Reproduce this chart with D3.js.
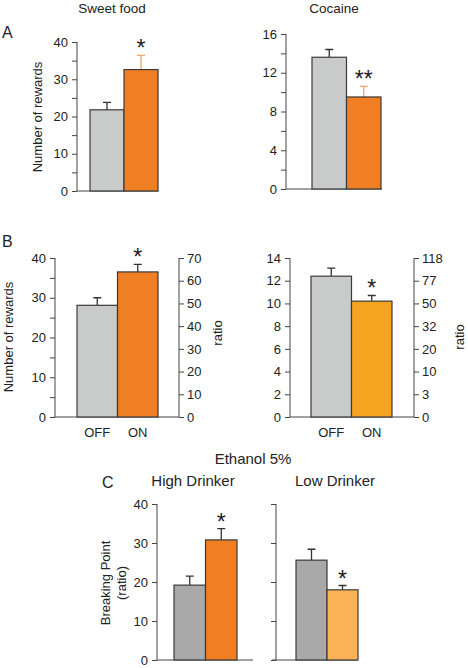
<!DOCTYPE html>
<html lang="en">
<head>
<meta charset="UTF-8">
<title>Rewards chart</title>
<script src="https://cdn.jsdelivr.net/npm/d3@7/dist/d3.min.js"></script>
<style>
  body { margin: 0; background: #fff; }
  svg { font-family: Arial, "Liberation Sans", Helvetica, sans-serif; }
  text { fill: #222; }
</style>
</head>
<body>
<script>

    // data
    var groups = ["OFF", "ON"];

    var sweetMean = [21.8, 32.6];
    var sweetErr = [2.0, 3.8];
    var cocaineMean = [13.6, 9.5];
    var cocaineErr = [0.8, 1.1];

    var sweetRatioMean = [28.1, 36.5];
    var sweetRatioErr = [1.9, 1.9];
    var cocaineRatioMean = [12.4, 10.2];
    var cocaineRatioErr = [0.7, 0.5];

    var highMean = [19.2, 30.8];
    var highErr = [2.3, 2.9];
    var lowMean = [25.6, 18.0];
    var lowErr = [2.8, 1.1];

    var sweetRatioLabels = ["0", "10", "20", "30", "40", "50", "60", "70"];
    var cocaineRatioLabels = ["0", "3", "10", "20", "32", "50", "77", "118"];

    var svg = d3.select("body").append("svg")
        .attr("width", 468)
        .attr("height", 668);

    var axisColor = "#444";
    var gray = "#C9CACA";
    var darkGray = "#A9A9A9";
    var orange = "#F07E22";
    var tickFont = 13;

    // draw one bar panel
    function panel(o) {
        var y = d3.scaleLinear().domain([0, o.max]).range([o.yBottom, o.yTop]);
        var x = d3.scaleBand().domain(groups).range(o.bars).padding(0);
        var g = svg.append("g");

        // left axis
        var ticks = d3.range(0, o.max + 0.001, o.minor);
        var ax = d3.axisLeft(y).tickValues(ticks).tickSize(5).tickPadding(4)
            .tickFormat(function (d) {
                if (!o.labels) return "";
                return d % o.major === 0 ? d : "";
            });
        var ag = g.append("g").attr("transform", "translate(" + o.axisX + ",0)").call(ax);
        ag.select(".domain").attr("d", "M0," + o.yBottom + "V" + o.yTop);
        ag.selectAll("line").attr("stroke", axisColor);
        ag.select(".domain").attr("stroke", axisColor);
        ag.selectAll("text").attr("font-size", tickFont).attr("fill", "#222");

        // right axis
        if (o.right) {
            var rightTicks = d3.range(0, o.max + 0.001, o.max / (o.right.length - 1));
            var ar = d3.axisRight(y).tickValues(rightTicks).tickSize(5).tickPadding(3)
                .tickFormat(function (d, i) { return o.right[i]; });
            var rg = g.append("g").attr("transform", "translate(" + o.rightX + ",0)").call(ar);
            rg.select(".domain").attr("d", "M0," + o.yBottom + "V" + o.yTop).attr("stroke", axisColor);
            rg.selectAll("line").attr("stroke", axisColor);
            rg.selectAll("text").attr("font-size", tickFont).attr("fill", "#222");
        }

        // baseline
        g.append("line")
            .attr("x1", o.baseStart || o.axisX).attr("x2", o.baseEnd)
            .attr("y1", o.yBottom).attr("y2", o.yBottom)
            .attr("stroke", axisColor).attr("stroke-width", 1);

        // error bars
        var cx = function (d, i) { return x(groups[i]) + x.bandwidth() / 2; };
        g.selectAll(".err").data(o.means).enter().append("path")
            .attr("fill", "none")
            .attr("stroke", function (d, i) { return o.errColors[i]; })
            .attr("stroke-width", 1.3)
            .attr("d", function (d, i) {
                var c = cx(d, i), t = y(d + o.errs[i]);
                return "M" + c + "," + y(d) + "V" + t + "M" + (c - 4) + "," + t + "H" + (c + 4);
            });

        // bars
        g.selectAll(".bar").data(o.means).enter().append("rect")
            .attr("x", function (d, i) { return x(groups[i]); })
            .attr("y", function (d) { return y(d); })
            .attr("width", x.bandwidth())
            .attr("height", function (d) { return o.yBottom - y(d); })
            .attr("fill", function (d, i) { return o.colors[i]; })
            .attr("stroke", "#3a3a3a")
            .attr("stroke-width", 1.2);

        // significance mark
        var si = o.starIndex;
        g.append("text")
            .attr("x", cx(0, si))
            .attr("y", y(o.means[si] + o.errs[si]) - 12 + 13)
            .attr("text-anchor", "middle")
            .attr("font-size", 23)
            .attr("fill", "#333")
            .text(o.star);

        // category labels
        if (o.catLabels) {
            g.selectAll(".cat").data(groups).enter().append("text")
                .attr("x", function (d) { return x(d) + x.bandwidth() / 2; })
                .attr("y", o.yBottom + 20)
                .attr("text-anchor", "middle")
                .attr("font-size", 13)
                .text(function (d) { return d; });
        }
    }

    panel({axisX: 77, baseEnd: 158, yTop: 42, yBottom: 191, max: 40, major: 10, minor: 5, labels: true,
        bars: [90, 158], means: sweetMean, errs: sweetErr, colors: [gray, orange],
        errColors: ["#333", "#F4A46A"], starIndex: 1, star: "*"});

    panel({axisX: 286, baseEnd: 382, yTop: 34, yBottom: 189, max: 16, major: 4, minor: 2, labels: true,
        bars: [312, 381], means: cocaineMean, errs: cocaineErr, colors: [gray, orange],
        errColors: ["#333", "#F4A46A"], starIndex: 1, star: "**"});

    panel({axisX: 55, baseEnd: 179, rightX: 179, right: sweetRatioLabels, yTop: 258, yBottom: 417,
        max: 40, major: 10, minor: 5, labels: true, catLabels: true,
        bars: [77, 158], means: sweetRatioMean, errs: sweetRatioErr, colors: [gray, orange],
        errColors: ["#333", "#333"], starIndex: 1, star: "*"});

    panel({axisX: 290, baseEnd: 414, rightX: 414, right: cocaineRatioLabels, yTop: 258, yBottom: 417,
        max: 14, major: 2, minor: 2, labels: true, catLabels: true,
        bars: [311, 392], means: cocaineRatioMean, errs: cocaineRatioErr, colors: [gray, "#F5A420"],
        errColors: ["#333", "#333"], starIndex: 1, star: "*"});

    panel({axisX: 157, baseEnd: 253, yTop: 504, yBottom: 660, max: 40, major: 10, minor: 10, labels: true,
        bars: [174, 237], means: highMean, errs: highErr, colors: [darkGray, orange],
        errColors: ["#333", "#333"], starIndex: 1, star: "*"});

    panel({axisX: 276, baseStart: 272, baseEnd: 358, yTop: 504, yBottom: 660, max: 40, major: 10, minor: 10, labels: false,
        bars: [296, 358], means: lowMean, errs: lowErr, colors: [darkGray, "#FBB257"],
        errColors: ["#333", "#333"], starIndex: 1, star: "*"});

    // titles and labels
    function label(x, y, s, size, anchor, rotate) {
        var t = svg.append("text")
            .attr("font-size", size)
            .attr("text-anchor", anchor || "middle")
            .text(s);
        if (rotate) {
            t.attr("transform", "translate(" + x + "," + y + ") rotate(-90)");
        } else {
            t.attr("x", x).attr("y", y);
        }
        return t;
    }

    label(112, 13, "Sweet food", 13.5);
    label(334, 13, "Cocaine", 13.5);
    label(2, 38, "A", 16, "start");
    label(2, 247, "B", 16, "start");
    label(102, 488, "C", 16, "start");

    label(42, 117, "Number of rewards", 13, "middle", true);
    label(13, 337, "Number of rewards", 13, "middle", true);
    label(222, 333, "ratio", 13, "middle", true);
    label(464, 337, "ratio", 13, "middle", true);

    label(253, 464, "Ethanol 5%", 15);
    label(193, 486, "High Drinker", 15);
    label(335, 486, "Low Drinker", 15);
    label(110, 583, "Breaking Point", 13, "middle", true);
    label(126, 583, "(ratio)", 13, "middle", true);

</script>
</body>
</html>
